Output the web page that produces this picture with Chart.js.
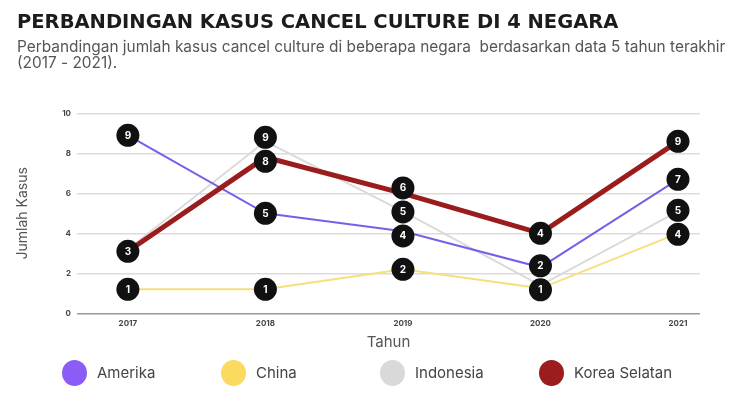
<!DOCTYPE html>
<html>
<head>
<meta charset="utf-8">
<script src="https://cdn.jsdelivr.net/npm/chart.js@4"></script>
<style>
  html, body { margin: 0; padding: 0; background: #fff; }
  #wrap { position: relative; width: 750px; height: 400px; }
  #legend { position: absolute; left: 0; top: 360px; width: 750px; height: 26px;
            font-family: Inter, sans-serif; font-size: 15px; color: #444; }
  .item { position: absolute; top: 0; height: 26px; line-height: 26px; }
  .dot { position: absolute; left: 0; top: 0; width: 25px; height: 26px; border-radius: 50%; }
  .item span { position: absolute; left: 35px; top: 0; white-space: nowrap; }
</style>
</head>
<body>
<div id="wrap">
  <canvas id="chart" width="750" height="400"></canvas>
  <div id="legend"></div>
</div>
<script>
// data
var years = [2017, 2018, 2019, 2020, 2021];
var yTicks = [0, 2, 4, 6, 8, 10];
var countries = ["Amerika", "China", "Indonesia", "Korea Selatan"];

var amerika = [8.9, 5.0, 4.1, 2.3, 6.7];
var china = [1.2, 1.2, 2.2, 1.25, 4.0];
var indonesia = [3.2, 8.6, 5.1, 1.4, 5.1];
var korea = [3.1, 7.8, 6.0, 4.0, 8.6];

// numbers shown in the black bubbles (null = hidden behind another bubble)
var amerikaLabels = [9, 5, 4, 2, 7];
var chinaLabels = [1, 1, 2, 1, 4];
var indonesiaLabels = [null, 9, 5, null, 5];
var koreaLabels = [3, 8, 6, 4, 9];

var lineColors = ["#7a5ee8", "#f4e07c", "#dadada", "#9b1c1c"];
var legendColors = ["#8b5cf6", "#fadb5f", "#d9d9d9", "#9b1d1d"];

function toPoints(values) {
  return years.map(function(yr, i) {
    return { x: yr, y: values[i] };
  });
}

// black round bubbles with the value, pushed apart when they overlap
var bubbleLabels = {
  id: 'bubbleLabels',
  afterDatasetsDraw: function(chart) {
    var ctx = chart.ctx;
    var r = 11.5;
    var minGap = 24;
    var cols = {};
    chart.data.datasets.forEach(function(ds, i) {
      var meta = chart.getDatasetMeta(i);
      meta.data.forEach(function(pt, j) {
        if (ds.bubbles[j] == null) return;
        if (!cols[j]) cols[j] = [];
        cols[j].push({ x: pt.x, y: pt.y, text: String(ds.bubbles[j]), idx: i });
      });
    });

    Object.keys(cols).forEach(function(k) {
      var list = cols[k].slice().sort(function(a, b) { return a.y - b.y; });
      for (var pass = 0; pass < 30; pass++) {
        for (var m = 1; m < list.length; m++) {
          var gap = list[m].y - list[m - 1].y;
          if (gap < minGap) {
            var d = (minGap - gap) / 2;
            list[m - 1].y -= d;
            list[m].y += d;
          }
        }
      }
      // draw in dataset order
      cols[k].sort(function(a, b) { return a.idx - b.idx; });
      cols[k].forEach(function(b) {
        ctx.save();
        ctx.beginPath();
        ctx.arc(b.x, b.y, r, 0, Math.PI * 2);
        ctx.fillStyle = '#111';
        ctx.fill();
        ctx.fillStyle = '#fff';
        ctx.font = 'bold 10px Inter';
        ctx.textAlign = 'center';
        ctx.textBaseline = 'middle';
        ctx.fillText(b.text, b.x, b.y + 0.5);
        ctx.restore();
      });
    });
  }
};

var series = [amerika, china, indonesia, korea];
var bubbleSets = [amerikaLabels, chinaLabels, indonesiaLabels, koreaLabels];
var widths = [2, 2, 2, 5];
var drawOrder = [1, 3, 2, 0];

var datasets = countries.map(function(name, i) {
  return {
    label: name,
    data: toPoints(series[i]),
    bubbles: bubbleSets[i],
    borderColor: lineColors[i],
    backgroundColor: lineColors[i],
    borderWidth: widths[i],
    pointRadius: 0,
    tension: 0,
    order: drawOrder[i]
  };
});

var ctx = document.getElementById('chart').getContext('2d');
var chart = new Chart(ctx, {
  type: 'line',
  data: { datasets: datasets },
  options: {
    responsive: false,
    animation: false,
    layout: { padding: { left: 17, right: 15, top: 0, bottom: 46.7 } },
    plugins: {
      legend: { display: false },
      tooltip: { enabled: false },
      title: {
        display: true,
        text: 'PERBANDINGAN KASUS CANCEL CULTURE DI 4 NEGARA',
        align: 'start',
        color: '#1c1c1c',
        font: { family: 'DejaVu Sans', size: 19.5, weight: 'bold', lineHeight: 1.1 },
        padding: { top: 12, bottom: 0 }
      },
      subtitle: {
        display: true,
        text: ['Perbandingan jumlah kasus cancel culture di beberapa negara  berdasarkan data 5 tahun terakhir',
               '(2017 - 2021).'],
        align: 'start',
        color: '#555',
        font: { family: 'Inter', size: 15.4, lineHeight: 1.1 },
        padding: { top: 5, bottom: 41 }
      }
    },
    scales: {
      x: {
        type: 'linear',
        min: 2016.63,
        max: 2021.16,
        afterBuildTicks: function(scale) {
          scale.ticks = years.map(function(v) { return { value: v }; });
        },
        afterFit: function(scale) { scale.height = 40; },
        grid: { display: false, drawTicks: false },
        border: { display: false },
        ticks: {
          callback: function(v) { return String(v); },
          color: '#444',
          font: { family: 'Inter', size: 8, weight: 'bold' },
          padding: 5,
          maxRotation: 0
        },
        title: {
          display: true,
          text: 'Tahun',
          color: '#555',
          font: { family: 'Inter', size: 15 },
          padding: { top: 0, bottom: 2 }
        }
      },
      y: {
        min: 0,
        max: 10,
        afterBuildTicks: function(scale) {
          scale.ticks = yTicks.map(function(v) { return { value: v }; });
        },
        afterFit: function(scale) { scale.width = 60; },
        grid: {
          drawTicks: false,
          lineWidth: 1.5,
          color: function(c) { return c.tick && c.tick.value === 0 ? '#9a9a9a' : '#dcdcdc'; }
        },
        border: { display: false },
        ticks: {
          color: '#444',
          font: { family: 'Inter', size: 8, weight: 'bold' },
          padding: 6
        },
        title: {
          display: true,
          text: 'Jumlah Kasus',
          color: '#555',
          font: { family: 'Inter', size: 14 },
          padding: { top: -3, bottom: 0 }
        }
      },
      // empty right-hand axis, only keeps white space right of the plot
      yRight: {
        position: 'right',
        min: 0,
        max: 10,
        afterFit: function(scale) { scale.width = 35; },
        grid: { display: false, drawTicks: false },
        border: { display: false },
        ticks: { display: false }
      }
    }
  },
  plugins: [bubbleLabels]
});

// legend under the chart
var legend = document.getElementById('legend');
countries.forEach(function(name, i) {
  var item = document.createElement('div');
  item.className = 'item';
  item.style.left = (62 + i * 159) + 'px';
  item.innerHTML = '<div class="dot" style="background:' + legendColors[i] + '"></div><span>' + name + '</span>';
  legend.appendChild(item);
});
</script>
</body>
</html>
